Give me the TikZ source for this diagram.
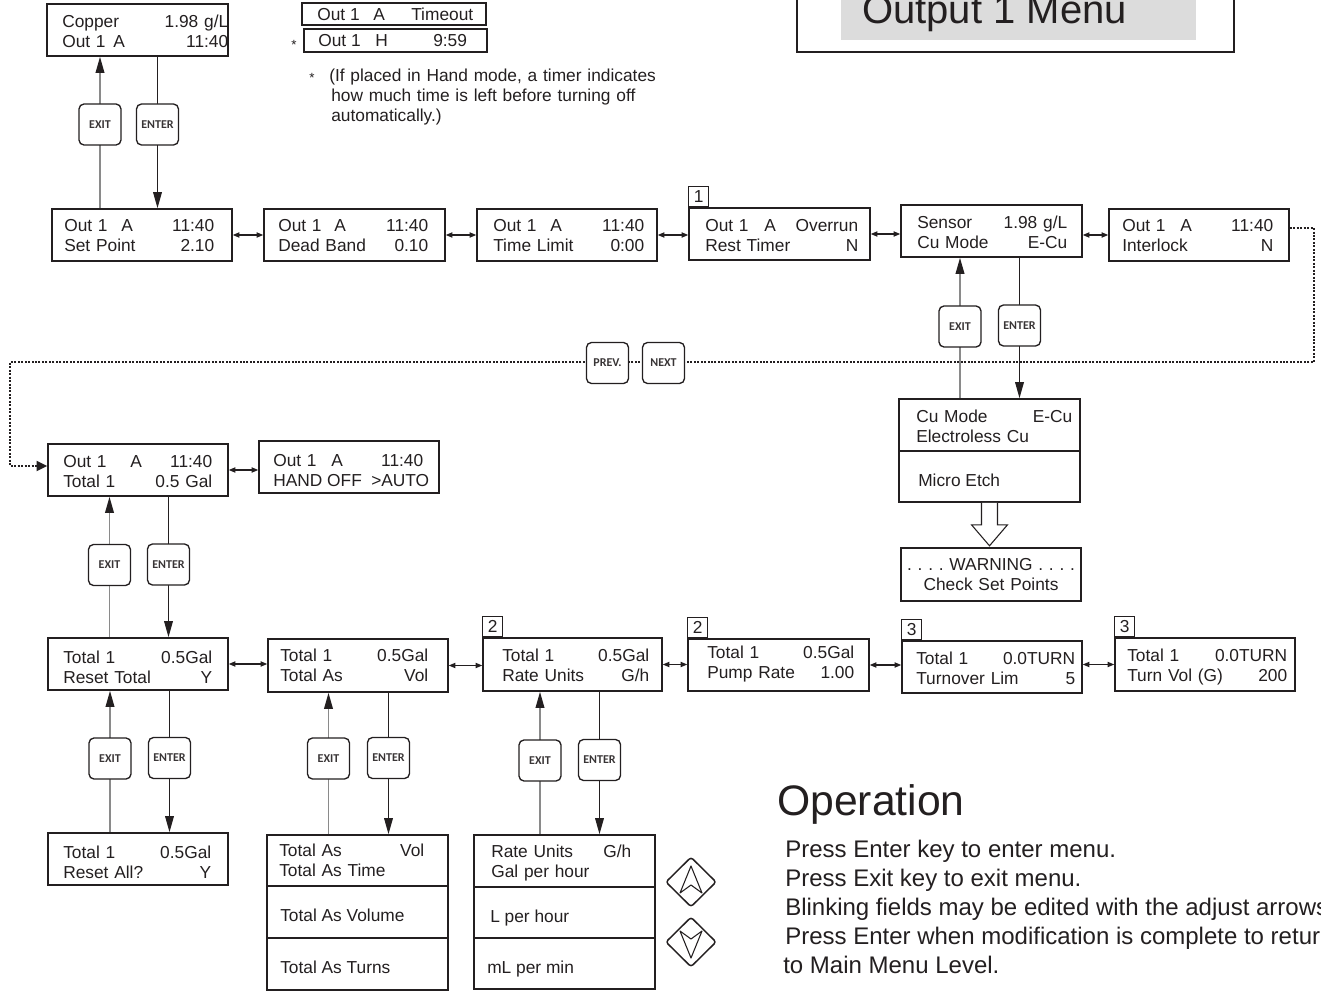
\documentclass[tikz,border=0pt]{standalone}
\usepackage{fontspec}
\setmainfont{Liberation Sans}
\newfontfamily\keyfont{Carlito}
\usetikzlibrary{arrows.meta,fit,backgrounds,shapes.geometric}
\definecolor{exitgray}{HTML}{8A8A8A}
\definecolor{titlegray}{HTML}{DCDCDC}
\definecolor{ink}{HTML}{231F20}
\newcommand\lab[2]{\makebox[#1][l]{#2}}
\begin{document}
\begin{tikzpicture}[x=0.75pt,y=-0.75pt,
  box/.style={draw=ink, line width=1.2pt, inner sep=0pt},
  thinbox/.style={draw=ink, line width=0.8pt, inner sep=0pt},
  txt/.style={inner sep=0pt, align=left, text=ink, anchor=base west, font=\fontsize{13pt}{15pt}\selectfont},
  lbl/.style={draw=ink, line width=0.7pt, inner sep=0pt, minimum width=15pt, minimum height=15.5pt, anchor=south west, text=ink, font=\fontsize{13pt}{15pt}\selectfont},
  key/.style={draw=ink, fill=white, rounded corners=3.75pt, line width=1pt, minimum width=31.5pt, minimum height=30.75pt, inner sep=0pt, text=ink!90, font=\keyfont\bfseries\fontsize{9pt}{10pt}\selectfont},
  exitln/.style={draw=exitgray, line width=1.1pt, -{Triangle[length=12pt,width=6.5pt,ink]}},
  enterln/.style={draw=ink, line width=0.9pt, -{Triangle[length=12pt,width=6.5pt]}},
  dbl/.style={draw=ink, line width=0.8pt, {Triangle[length=5pt,width=4pt]}-{Triangle[length=5pt,width=4pt]}},
  dotln/.style={draw=ink, line width=1.7pt, dash pattern=on 1.5pt off 1.1pt, -{Triangle[length=8pt,width=7.5pt]}},
  optxt/.style={anchor=base west, inner sep=0pt, text=ink, font=\fontsize{18pt}{22pt}\selectfont},
  padkey/.style={draw=ink, diamond, line width=1.1pt, rounded corners=2pt, minimum width=38pt, minimum height=37.5pt, inner sep=0pt},
  padarrow/.style={draw=ink, line width=0.8pt, line join=round}
]
\useasboundingbox (0,0) rectangle (1321,991);

% ---------- title ----------
\node[draw=ink, line width=1.1pt, inner sep=0pt, fit={(797,-20)(1234,52)}] (tbox) {};
\node[fill=titlegray, inner sep=0pt, fit={(841,-20)(1196,40)}] (tgray) {};
\node[anchor=base west, inner sep=0pt, text=ink, font=\fontsize{30pt}{36pt}\selectfont] (ttl) at (862,24) {Output 1 Menu};

% ---------- top left ----------
\node[box, fit={(47,4)(228,56)}] (cop) {};
\node[txt, text width=124.5pt] (cop-t) at (62,28) {Copper\hfill 1.98 g/L\\\lab{38.25pt}{Out 1}A\hfill 11:40\hspace{5.25pt}};

\node[thinbox, fit={(302,3)(486,25)}] (to1) {};
\node[txt] (to1-t) at (317,21) {\lab{42pt}{Out 1}\lab{28.5pt}{A}Timeout};
\node[thinbox, fit={(304,29)(487,52)}] (to2) {};
\node[txt] (to2-t) at (318,47) {\lab{42.75pt}{Out 1}\lab{43.5pt}{H}9:59};
\node[txt, font=\fontsize{10pt}{12pt}\selectfont] (ast1) at (291,50) {*};
\node[txt, font=\fontsize{10pt}{12pt}\selectfont] (ast2) at (309,83) {*};
\node[txt, text width=300pt] (note) at (329,82) {(If placed in Hand mode, a timer indicates\\\hspace{1.5pt}how much time is left before turning off\\\hspace{1.5pt}automatically.)};

% ---------- middle row ----------
\node[box, fit={(52,209)(232,261)}] (sp) {};
\node[txt, text width=112.5pt] (sp-t) at (64,232) {\lab{42.75pt}{Out 1}A\hfill 11:40\\Set Point\hfill 2.10};
\node[box, fit={(264,209)(445,261)}] (db) {};
\node[txt, text width=112.5pt] (db-t) at (278,232) {\lab{42pt}{Out 1}A\hfill 11:40\\Dead Band\hfill 0.10\hspace{3pt}};
\node[box, fit={(477,209)(657,261)}] (tli) {};
\node[txt, text width=113.25pt] (tli-t) at (493,232) {\lab{42.75pt}{Out 1}A\hfill 11:40\\Time Limit\hfill 0:00};
\node[box, fit={(689,208)(870,260)}] (ov) {};
\node[txt, text width=114.75pt] (ov-t) at (705,232) {\lab{44.25pt}{Out 1}A\hfill Overrun\\Rest Timer\hfill N};
\node[lbl] (ov-l) at (ov.north west) {1};
\node[box, fit={(901,205)(1082,257)}] (se) {};
\node[txt, text width=112.5pt] (se-t) at (917,229) {Sensor\hfill 1.98 g/L\\Cu Mode\hfill E-Cu\hspace{2pt}};
\node[box, fit={(1109,209)(1289,261)}] (il) {};
\node[txt, text width=113.25pt] (il-t) at (1122,232) {\lab{43.5pt}{Out 1}A\hfill 11:40\\Interlock\hfill N};

% keys
\node[key] (ek1) at (100,124.5) {EXIT};
\node[key] (nk1) at (157.5,124.5) {ENTER};
\node[key] (pv) at (607.5,363) {PREV.};
\node[key] (nx) at (663.5,363) {NEXT};
\node[key] (ek2) at (960,326.5) {EXIT};
\node[key] (nk2) at (1019.5,325.5) {ENTER};

% Cu mode stack
\node[box, fit={(899,399)(1080,451)}] (cum1) {};
\node[box, fit={(899,451)(1080,502)}] (cum2) {};
\node[txt, text width=117pt] (cum1-t) at (916,422) {Cu Mode\hfill E-Cu\\Electroless Cu};
\node[txt] (cum2-t) at (918,486) {Micro Etch};
\node[box, fit={(901,548)(1081,601)}] (warn) {};
\node[inner sep=0pt, text=ink, align=center, text width=130pt, font=\fontsize{13pt}{15pt}\selectfont] (warn-t) at (warn.center) {\mbox{.\ .\ .\ .\ WARNING\ .\ .\ .\ .}\\Check Set Points};
\draw[draw=ink, line width=0.8pt, fill=white] (cum2.south) ++(-8,0) -- ++(0,22) -- ++(-10,0) -- ++(18,21) -- ++(18,-21) -- ++(-10,0) -- ++(0,-22);

% ---------- lower section ----------
\node[box, fit={(48,444)(228,496)}] (cot) {};
\node[txt, text width=111.75pt] (cot-t) at (63,467) {\lab{50.25pt}{Out 1}A\hfill 11:40\\Total 1\hfill 0.5 Gal\hspace{0.75pt}};
\node[box, fit={(259,441)(439,493)}] (hand) {};
\node[txt, text width=112.5pt] (hand-t) at (273,466) {\lab{43.5pt}{Out 1}A\hfill 11:40\\\lab{40.5pt}{HAND}\lab{33pt}{OFF}>AUTO};

\node[key] (ek3) at (109.5,565) {EXIT};
\node[key] (nk3) at (168.5,564.5) {ENTER};

\node[box, fit={(48,638)(228,690)}] (rt) {};
\node[txt, text width=111.75pt] (rt-t) at (63,663) {Total 1\hfill 0.5Gal\\Reset Total\hfill Y\hspace{0.75pt}};
\node[box, fit={(268,639)(448,692)}] (ta) {};
\node[txt, text width=111pt] (ta-t) at (280,661) {Total 1\hfill 0.5Gal\\Total As\hfill Vol\hspace{2.25pt}};
\node[box, fit={(483,638)(662,691)}] (ru) {};
\node[lbl] (ru-l) at (ru.north west) {2};
\node[txt, text width=110.25pt] (ru-t) at (502,661) {Total 1\hfill 0.5Gal\\Rate Units\hfill G/h\hspace{2.25pt}};
\node[box, fit={(688,639)(869,691)}] (pr) {};
\node[lbl] (pr-l) at (pr.north west) {2};
\node[txt, text width=110.25pt] (pr-t) at (707,658) {Total 1\hfill 0.5Gal\\Pump Rate\hfill 1.00};
\node[box, fit={(902,641)(1082,693)}] (tn) {};
\node[lbl] (tn-l) at (tn.north west) {3};
\node[txt, text width=119.25pt] (tn-t) at (916,664) {Total 1\hfill 0.0TURN\\Turnover Lim\hfill 5\hspace{8.25pt}};
\node[box, fit={(1115,638)(1295,691)}] (tv) {};
\node[lbl] (tv-l) at (tv.north west) {3};
\node[txt, text width=120pt] (tv-t) at (1127,661) {Total 1\hfill 0.0TURN\\Turn Vol (G)\hfill 200\hspace{3pt}};

\node[key] (ek4) at (110,758.5) {EXIT};
\node[key] (nk4) at (169.5,758) {ENTER};
\node[key] (ek5) at (328.5,758.5) {EXIT};
\node[key] (nk5) at (388.5,758) {ENTER};
\node[key] (ek6) at (540,760.5) {EXIT};
\node[key] (nk6) at (599.5,760) {ENTER};

\node[box, fit={(48,833)(228,885)}] (ra) {};
\node[txt, text width=111pt] (ra-t) at (63,858) {Total 1\hfill 0.5Gal\\Reset All?\hfill Y\hspace{3pt}};

\node[box, fit={(267,835)(448,886)}] (tas1) {};
\node[box, fit={(267,886)(448,938)}] (tas2) {};
\node[box, fit={(267,938)(448,990)}] (tas3) {};
\node[txt, text width=108.75pt] (tas1-t) at (279,856) {Total As\hfill Vol\\Total As Time};
\node[txt] (tas2-t) at (280,921) {Total As Volume};
\node[txt] (tas3-t) at (280,973) {Total As Turns};

\node[box, fit={(474,835)(655,887)}] (rus1) {};
\node[box, fit={(474,887)(655,938)}] (rus2) {};
\node[box, fit={(474,938)(655,989)}] (rus3) {};
\node[txt, text width=105pt] (rus1-t) at (491,857) {Rate Units\hfill G/h\\Gal per hour};
\node[txt] (rus2-t) at (490,922) {L per hour};
\node[txt] (rus3-t) at (487,973) {mL per min};

\node[padkey] (upk) at (691,882) {};
\node[padkey] (dnk) at (691,942) {};
\draw[padarrow] ([shift={(0,-16)}]upk.center) -- ([shift={(-11,11)}]upk.center) -- ([shift={(0,3)}]upk.center) -- ([shift={(11,11)}]upk.center) -- cycle;
\draw[padarrow] ([shift={(0,16)}]dnk.center) -- ([shift={(-11,-11)}]dnk.center) -- ([shift={(0,-3)}]dnk.center) -- ([shift={(11,-11)}]dnk.center) -- cycle;

% ---------- operation text ----------
\node[anchor=base west, inner sep=0pt, text=ink, font=\fontsize{32pt}{38pt}\selectfont] (op) at (777,815) {Operation};
\node[optxt] (op1) at (785,857) {Press Enter key to enter menu.};
\node[optxt] (op2) at (785,886) {Press Exit key to exit menu.};
\node[optxt] (op3) at (785,915) {Blinking fields may be edited with the adjust arrows};
\node[optxt] (op4) at (785,944) {Press Enter when modification is complete to return};
\node[optxt] (op5) at (783,973) {to Main Menu Level.};

% ---------- connectors ----------
\coordinate (d1) at (1314,228);
\coordinate (d2) at (1314,362);
\coordinate (d3) at (10,362);
\coordinate (d4) at (10,466);
\begin{scope}[on background layer]
  \draw[exitln] (sp.north -| ek1) -- (cop.south -| ek1);
  \draw[enterln] (cop.south -| nk1) -- (sp.north -| nk1);
  \draw[dbl] (sp.east) -- (db.west);
  \draw[dbl] (db.east) -- (tli.west);
  \draw[dbl] (tli.east) -- (tli.east -| ov.west);
  \draw[dbl] (ov.east) -- (ov.east -| se.west);
  \draw[dbl] (il.west -| se.east) -- (il.west);
  \draw[dotln] (il.east |- d1) -- (d1) -- (d2) -- (d3) -- (d4) -- (d4 -| cot.west);
  \draw[exitln] (cum1.north -| ek2) -- (se.south -| ek2);
  \draw[enterln] (se.south -| nk2) -- (cum1.north -| nk2);
  \draw[dbl] (cot.east) -- (cot.east -| hand.west);
  \draw[exitln] (rt.north -| ek3) -- (cot.south -| ek3);
  \draw[enterln] (cot.south -| nk3) -- (rt.north -| nk3);
  \draw[dbl] (rt.east) -- (rt.east -| ta.west);
  \draw[dbl] (ta.east) -- (ta.east -| ru.west);
  \draw[dbl] (ru.east) -- (ru.east -| pr.west);
  \draw[dbl] (pr.east) -- (pr.east -| tn.west);
  \draw[dbl] (tn.east |- tv.west) -- (tv.west);
  \draw[exitln] (ra.north -| ek4) -- (rt.south -| ek4);
  \draw[enterln] (rt.south -| nk4) -- (ra.north -| nk4);
  \draw[exitln] (tas1.north -| ek5) -- (ta.south -| ek5);
  \draw[enterln] (ta.south -| nk5) -- (tas1.north -| nk5);
  \draw[exitln] (rus1.north -| ek6) -- (ru.south -| ek6);
  \draw[enterln] (ru.south -| nk6) -- (rus1.north -| nk6);
\end{scope}
\end{tikzpicture}
\end{document}
